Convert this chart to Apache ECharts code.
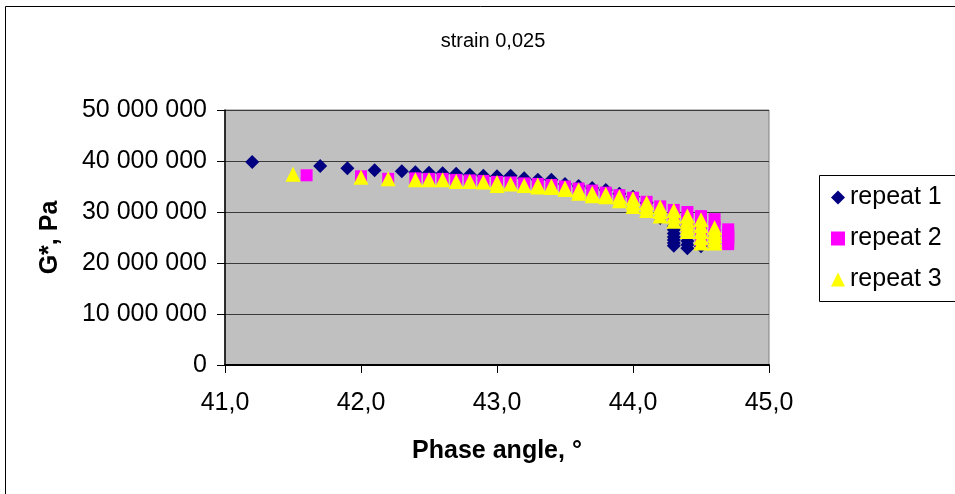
<!DOCTYPE html>
<html>
<head>
<meta charset="utf-8">
<script src="https://cdn.jsdelivr.net/npm/echarts@6/dist/echarts.min.js"></script>
<style>
  html, body { margin: 0; padding: 0; background: #fff; }
  #chart { width: 955px; height: 494px; }
</style>
</head>
<body>
<div id="chart"></div>
<script>
// phase angle (deg), G* (Pa)
var repeat1 = [
    [41.2, 39800000], [41.7, 39000000], [41.9, 38600000], [42.1, 38200000],
    [42.3, 38000000], [42.4, 37800000], [42.5, 37700000], [42.6, 37600000],
    [42.7, 37500000], [42.8, 37300000], [42.9, 37100000], [43.0, 37000000],
    [43.1, 37100000], [43.2, 36600000], [43.3, 36300000], [43.4, 36300000],
    [43.5, 35500000], [43.6, 35100000], [43.7, 34700000], [43.8, 34300000],
    [43.9, 33600000], [44.0, 33000000], [44.1, 31800000], [44.2, 28800000],
    [44.3, 27200000], [44.3, 26500000], [44.3, 25800000], [44.3, 25100000],
    [44.3, 24500000], [44.3, 23900000], [44.3, 23400000],
    [44.4, 24300000], [44.4, 23600000], [44.4, 22900000], [44.5, 23300000]
];
var repeat2 = [
    [41.6, 37200000], [42.0, 37000000], [42.2, 36500000], [42.4, 36600000],
    [42.5, 36500000], [42.6, 36500000], [42.7, 36300000], [42.8, 36200000],
    [42.9, 36100000], [43.0, 35900000], [43.1, 35800000], [43.2, 35600000],
    [43.3, 35500000], [43.4, 35300000], [43.5, 35000000], [43.6, 34600000],
    [43.7, 34200000], [43.8, 33800000], [43.9, 33300000], [44.0, 32800000],
    [44.1, 32000000], [44.2, 31100000], [44.3, 30400000], [44.3, 29000000],
    [44.4, 30000000], [44.4, 28500000], [44.4, 27000000],
    [44.5, 29200000], [44.5, 27500000], [44.5, 25800000], [44.5, 24500000],
    [44.6, 28600000], [44.6, 27000000], [44.6, 25500000], [44.6, 24000000],
    [44.7, 26600000], [44.7, 25800000], [44.7, 25100000], [44.7, 24400000],
    [44.7, 23700000]
];
var repeat3 = [
    [41.5, 37400000], [42.0, 36800000], [42.2, 36500000], [42.4, 36300000],
    [42.5, 36300000], [42.6, 36300000], [42.7, 36000000], [42.8, 36000000],
    [42.9, 35900000], [43.0, 35800000], [43.0, 35200000], [43.1, 35500000],
    [43.2, 35200000], [43.3, 35300000], [43.3, 34900000], [43.4, 35100000],
    [43.4, 34800000], [43.5, 34700000], [43.5, 34400000], [43.6, 34300000],
    [43.6, 33700000], [43.7, 33700000], [43.7, 33200000], [43.8, 33500000],
    [43.8, 33000000], [43.9, 33000000], [43.9, 32200000],
    [44.0, 32600000], [44.0, 31800000], [44.0, 31100000],
    [44.1, 31800000], [44.1, 31000000], [44.1, 30300000],
    [44.2, 31000000], [44.2, 30100000], [44.2, 29200000],
    [44.3, 30300000], [44.3, 29200000], [44.3, 28200000],
    [44.4, 29200000], [44.4, 28400000], [44.4, 27700000], [44.4, 26900000],
    [44.4, 26200000],
    [44.5, 28500000], [44.5, 27300000], [44.5, 26200000], [44.5, 25000000],
    [44.5, 23900000],
    [44.6, 26900000], [44.6, 26100000], [44.6, 25400000], [44.6, 24600000],
    [44.6, 23900000]
];
var seriesNames = ['repeat 1', 'repeat 2', 'repeat 3'];
var xTicks = [41, 45, 1];
var yTicks = [0, 50000000, 10000000];

var font = '"Liberation Sans", Arial, sans-serif';

var chart = echarts.init(document.getElementById('chart'));

function fmtY(v) {
    // 50000000 -> "50 000 000"
    return String(Math.round(v)).replace(/\B(?=(\d{3})+(?!\d))/g, ' ');
}
function fmtX(v) {
    return v.toFixed(1).replace('.', ',');
}

var option = {
    backgroundColor: '#fff',
    animation: false,
    textStyle: { fontFamily: font },
    title: {
        text: 'strain 0,025',
        left: 488,
        top: 26,
        textAlign: 'center',
        textStyle: { fontFamily: font, fontSize: 20, fontWeight: 'normal', color: '#000' }
    },
    graphic: [
        { type: 'rect', shape: { x: 5.5, y: 6.5, width: 1000, height: 1000 },
          style: { fill: 'none', stroke: '#000', lineWidth: 1 }, silent: true, z: -1 },
        { type: 'rect', shape: { x: 819.5, y: 175.5, width: 200, height: 126 },
          style: { fill: '#fff', stroke: '#000', lineWidth: 1 }, silent: true, z: 0 }
    ],
    legend: {
        orient: 'vertical',
        left: 831,
        top: 185,
        padding: 0,
        itemWidth: 14,
        itemHeight: 14,
        itemGap: 16,
        z: 5,
        textStyle: { fontFamily: font, fontSize: 25, color: '#000', lineHeight: 25 },
        data: [
            { name: seriesNames[0], icon: 'diamond' },
            { name: seriesNames[1], icon: 'rect' },
            { name: seriesNames[2], icon: 'triangle' }
        ]
    },
    grid: {
        left: 225,
        right: 186,
        top: 110,
        bottom: 129,
        show: true,
        backgroundColor: '#C0C0C0',
        borderColor: '#808080',
        borderWidth: 1
    },
    xAxis: {
        type: 'value',
        min: xTicks[0],
        max: xTicks[1],
        interval: xTicks[2],
        name: 'Phase angle, °',
        nameLocation: 'middle',
        nameGap: 74,
        nameTextStyle: { fontFamily: font, fontSize: 25, fontWeight: 'bold', color: '#000' },
        axisLine: { show: true, onZero: false, lineStyle: { color: '#000', width: 2 } },
        axisTick: { show: true, inside: false, length: 8, lineStyle: { color: '#000' } },
        axisLabel: { formatter: fmtX, margin: 26, fontSize: 25, color: '#000', fontFamily: font },
        splitLine: { show: false }
    },
    yAxis: {
        type: 'value',
        min: yTicks[0],
        max: yTicks[1],
        interval: yTicks[2],
        name: 'G*, Pa',
        nameLocation: 'middle',
        nameGap: 162,
        nameRotate: 90,
        nameTextStyle: { fontFamily: font, fontSize: 25, fontWeight: 'bold', color: '#000' },
        axisLine: { show: true, onZero: false, lineStyle: { color: '#000', width: 1.5 } },
        axisTick: { show: true, inside: false, length: 8, lineStyle: { color: '#000' } },
        axisLabel: { formatter: fmtY, margin: 18, fontSize: 25, color: '#000', fontFamily: font },
        splitLine: { show: true, lineStyle: { color: '#3a3a3a', width: 1 } }
    },
    series: [
        {
            name: seriesNames[0], type: 'scatter', symbol: 'diamond', symbolSize: 14,
            itemStyle: { color: '#000080', opacity: 1 }, data: repeat1
        },
        {
            name: seriesNames[1], type: 'scatter', symbol: 'rect', symbolSize: 12,
            itemStyle: { color: '#FF00FF', opacity: 1 }, data: repeat2
        },
        {
            name: seriesNames[2], type: 'scatter', symbol: 'triangle', symbolSize: 15,
            itemStyle: { color: '#FFFF00', opacity: 1 }, data: repeat3
        }
    ]
};
chart.setOption(option);
</script>
</body>
</html>
